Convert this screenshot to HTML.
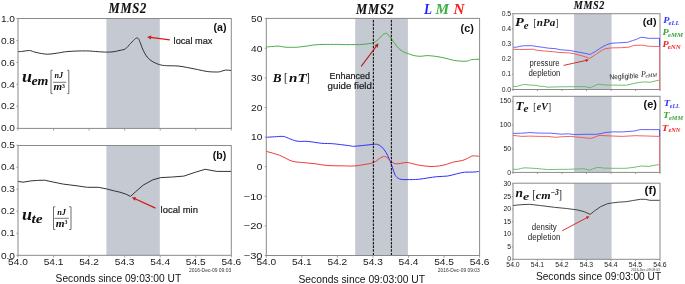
<!DOCTYPE html>
<html><head><meta charset="utf-8"><style>
html,body{margin:0;padding:0;background:#fff;width:685px;height:284px;overflow:hidden}
svg{display:block;will-change:transform}

</style></head><body>
<svg width="685" height="284" viewBox="0 0 685 284">
<rect width="685" height="284" fill="#ffffff"/>
<rect x="106.4" y="18.5" width="53.40" height="109.90" fill="#c5c9d1"/>
<rect x="106.4" y="145.5" width="53.40" height="109.80" fill="#c5c9d1"/>
<rect x="355.2" y="18.4" width="52.70" height="237.10" fill="#c5c9d1"/>
<rect x="574.1" y="13.7" width="37.50" height="75.80" fill="#c5c9d1"/>
<rect x="574.1" y="96.3" width="37.50" height="76.10" fill="#c5c9d1"/>
<rect x="574.1" y="183.2" width="37.50" height="76.10" fill="#c5c9d1"/>
<path d="M18.20,51.70 C19.00,51.63 21.12,51.50 23.00,51.30 C24.88,51.10 27.35,50.32 29.50,50.50 C31.65,50.68 32.97,51.78 35.90,52.40 C38.83,53.02 43.62,54.07 47.10,54.20 C50.58,54.33 53.32,53.65 56.80,53.20 C60.28,52.75 63.18,51.88 68.00,51.50 C72.82,51.12 80.62,50.87 85.70,50.90 C90.78,50.93 95.03,51.50 98.50,51.70 C101.97,51.90 104.08,52.08 106.50,52.10 C108.92,52.12 110.75,52.08 113.00,51.80 C115.25,51.52 117.93,50.90 120.00,50.40 C122.07,49.90 123.63,49.97 125.40,48.80 C127.17,47.63 128.92,45.10 130.60,43.40 C132.28,41.70 134.30,39.47 135.50,38.60 C136.70,37.73 137.15,37.88 137.80,38.20 C138.45,38.52 138.50,38.50 139.40,40.50 C140.30,42.50 141.92,47.45 143.20,50.20 C144.48,52.95 145.48,55.07 147.10,57.00 C148.72,58.93 150.80,60.52 152.90,61.80 C155.00,63.08 157.43,64.05 159.70,64.70 C161.97,65.35 163.45,65.48 166.50,65.70 C169.55,65.92 174.45,65.68 178.00,66.00 C181.55,66.32 184.57,67.02 187.80,67.60 C191.03,68.18 194.18,68.85 197.40,69.50 C200.62,70.15 203.87,71.08 207.10,71.50 C210.33,71.92 214.53,72.00 216.80,72.00 C219.07,72.00 219.25,71.82 220.70,71.50 C222.15,71.18 223.82,70.27 225.50,70.10 C227.18,69.93 229.92,70.43 230.80,70.50" fill="none" stroke="#333333" stroke-width="1.0" stroke-linejoin="round" stroke-linecap="round"/>
<polyline points="18.2,181.4 23.0,182.2 31.0,180.9 37.5,180.4 44.7,180.2 52.0,181.8 63.2,184.1 76.0,185.7 87.3,187.3 98.5,187.3 106.5,188.9 114.6,191.0 120.0,192.2 125.8,194.1 130.5,196.4 135.8,191.6 143.2,185.1 152.9,179.8 160.7,177.6 172.3,177.0 183.9,176.1 195.5,172.2 205.2,169.3 216.8,171.4 230.8,171.4" fill="none" stroke="#333333" stroke-width="1.0" stroke-linejoin="round" stroke-linecap="round" />
<path d="M266.40,137.30 C267.72,137.22 271.52,136.95 274.30,136.80 C277.08,136.65 280.75,136.17 283.10,136.40 C285.45,136.63 286.05,137.40 288.40,138.20 C290.75,139.00 293.97,140.67 297.20,141.20 C300.43,141.73 303.70,141.05 307.80,141.40 C311.90,141.75 317.70,142.92 321.80,143.30 C325.90,143.68 328.87,143.43 332.40,143.70 C335.93,143.97 340.07,144.55 343.00,144.90 C345.93,145.25 348.25,145.57 350.00,145.80 C351.75,146.03 351.42,146.35 353.50,146.30 C355.58,146.25 359.22,145.82 362.50,145.50 C365.78,145.18 370.72,144.58 373.20,144.40 C375.68,144.22 375.98,143.98 377.40,144.40 C378.82,144.82 380.28,145.60 381.70,146.90 C383.12,148.20 384.68,150.27 385.90,152.20 C387.12,154.13 388.12,156.57 389.00,158.50 C389.88,160.43 390.48,161.87 391.20,163.80 C391.92,165.73 392.60,168.17 393.30,170.10 C394.00,172.03 394.35,173.92 395.40,175.40 C396.45,176.88 397.67,178.30 399.60,179.00 C401.53,179.70 403.88,179.55 407.00,179.60 C410.12,179.65 414.78,179.58 418.30,179.30 C421.82,179.02 425.05,178.33 428.10,177.90 C431.15,177.47 433.32,177.02 436.60,176.70 C439.88,176.38 444.52,176.47 447.80,176.00 C451.08,175.53 453.48,174.53 456.30,173.90 C459.12,173.27 461.88,172.50 464.70,172.20 C467.52,171.90 470.78,172.23 473.20,172.10 C475.62,171.97 478.20,171.52 479.20,171.40" fill="none" stroke="#3030ff" stroke-width="1.0" stroke-linejoin="round" stroke-linecap="round"/>
<path d="M266.50,46.90 C267.35,46.85 269.68,46.73 271.60,46.60 C273.52,46.47 275.58,46.00 278.00,46.10 C280.42,46.20 282.88,47.02 286.10,47.20 C289.32,47.38 293.82,47.40 297.30,47.20 C300.78,47.00 303.52,46.43 307.00,46.00 C310.48,45.57 313.65,44.87 318.20,44.60 C322.75,44.33 329.75,44.40 334.30,44.40 C338.85,44.40 341.98,44.57 345.50,44.60 C349.02,44.63 352.35,44.65 355.40,44.60 C358.45,44.55 360.82,44.62 363.80,44.30 C366.78,43.98 370.93,43.48 373.30,42.70 C375.67,41.92 376.42,40.92 378.00,39.60 C379.58,38.28 381.47,35.85 382.80,34.80 C384.13,33.75 385.08,33.30 386.00,33.30 C386.92,33.30 387.38,33.88 388.30,34.80 C389.22,35.72 390.43,37.35 391.50,38.80 C392.57,40.25 393.52,41.92 394.70,43.50 C395.88,45.08 397.15,46.92 398.60,48.30 C400.05,49.68 401.82,50.93 403.40,51.80 C404.98,52.67 406.32,52.87 408.10,53.50 C409.88,54.13 411.93,55.13 414.10,55.60 C416.27,56.07 419.00,56.30 421.10,56.30 C423.20,56.30 424.35,55.60 426.70,55.60 C429.05,55.60 432.15,55.88 435.20,56.30 C438.25,56.72 441.95,57.43 445.00,58.10 C448.05,58.77 450.68,59.78 453.50,60.30 C456.32,60.82 459.57,61.08 461.90,61.20 C464.23,61.32 465.85,61.27 467.50,61.00 C469.15,60.73 469.85,59.88 471.80,59.60 C473.75,59.32 477.97,59.35 479.20,59.30" fill="none" stroke="#4aac4a" stroke-width="1.0" stroke-linejoin="round" stroke-linecap="round"/>
<path d="M266.40,151.40 C268.60,152.05 275.35,153.68 279.60,155.30 C283.85,156.92 288.08,159.90 291.90,161.10 C295.72,162.30 298.68,162.07 302.50,162.50 C306.32,162.93 310.70,163.20 314.80,163.70 C318.90,164.20 322.70,165.15 327.10,165.50 C331.50,165.85 336.80,165.72 341.20,165.80 C345.60,165.88 349.92,166.17 353.50,166.00 C357.08,165.83 359.42,165.35 362.70,164.80 C365.98,164.25 370.38,163.75 373.20,162.70 C376.02,161.65 377.73,159.55 379.60,158.50 C381.47,157.45 383.00,156.40 384.40,156.40 C385.80,156.40 386.87,157.62 388.00,158.50 C389.13,159.38 389.97,160.82 391.20,161.70 C392.43,162.58 393.82,163.52 395.40,163.80 C396.98,164.08 398.77,163.63 400.70,163.40 C402.63,163.17 404.77,162.28 407.00,162.40 C409.23,162.52 411.75,163.58 414.10,164.10 C416.45,164.62 418.28,165.10 421.10,165.50 C423.92,165.90 427.95,166.43 431.00,166.50 C434.05,166.57 436.83,166.25 439.40,165.90 C441.97,165.55 444.05,165.05 446.40,164.40 C448.75,163.75 450.92,162.63 453.50,162.00 C456.08,161.37 459.57,161.20 461.90,160.60 C464.23,160.00 465.85,159.15 467.50,158.40 C469.15,157.65 470.62,156.52 471.80,156.10 C472.98,155.68 473.37,155.87 474.60,155.90 C475.83,155.93 478.43,156.23 479.20,156.30" fill="none" stroke="#f03a3a" stroke-width="1.0" stroke-linejoin="round" stroke-linecap="round"/>
<line x1="373.4" y1="255.5" x2="373.4" y2="18.4" stroke="#111" stroke-width="1.1" stroke-dasharray="2.5,1.2"/>
<line x1="391.4" y1="255.5" x2="391.4" y2="18.4" stroke="#111" stroke-width="1.1" stroke-dasharray="2.5,1.2"/>
<polyline points="513.5,47.1 516.4,47.3 519.3,46.4 524.4,45.7 531.7,45.7 536.1,46.4 542.7,47.3 548.5,48.2 555.1,48.6 560.0,49.7 569.2,50.4 574.7,51.4 582.9,52.9 590.2,54.5 596.6,50.7 603.0,46.5 606.7,44.7 611.2,43.3 617.5,42.9 627.5,42.3 632.5,40.6 636.6,39.3 640.8,37.3 644.1,37.5 648.3,38.3 659.5,38.3 659.5,89.5" fill="none" stroke="#4848ff" stroke-width="0.85" stroke-linejoin="round" stroke-linecap="round" />
<polyline points="513.5,86.4 517.8,86.4 520.0,85.3 524.4,84.4 530.2,85.1 536.1,85.3 539.7,86.2 544.1,86.4 547.0,87.2 560.0,86.8 584.8,86.6 589.2,87.5 591.4,87.3 594.3,85.9 598.0,84.2 603.8,84.9 610.0,85.1 626.6,85.2 632.5,83.8 639.9,82.3 644.9,81.9 649.9,82.3 654.9,81.1 659.5,80.0 659.5,89.5" fill="none" stroke="#58b458" stroke-width="0.85" stroke-linejoin="round" stroke-linecap="round" />
<polyline points="513.5,49.3 519.3,49.5 533.2,49.3 536.8,50.3 544.8,51.0 552.9,51.7 560.0,52.5 569.2,52.9 574.7,53.9 582.9,56.1 589.8,58.4 596.6,53.9 603.0,49.7 606.0,48.6 611.2,47.9 621.6,47.7 629.1,47.1 634.1,45.4 642.4,45.2 648.3,46.2 659.5,46.5 659.5,89.5" fill="none" stroke="#f04848" stroke-width="0.85" stroke-linejoin="round" stroke-linecap="round" />
<polyline points="513.3,133.4 521.7,133.2 529.9,132.6 539.2,133.1 550.9,133.2 561.4,134.2 568.4,133.8 574.2,134.5 585.0,134.3 596.7,134.3 606.0,132.5 611.9,131.9 622.4,131.9 634.0,131.1 639.9,129.6 650.4,129.6 659.5,129.6 659.5,172.4" fill="none" stroke="#4848ff" stroke-width="0.85" stroke-linejoin="round" stroke-linecap="round" />
<polyline points="513.3,169.3 518.2,169.3 520.5,168.5 524.6,167.8 529.9,168.1 536.9,168.5 541.5,169.0 548.5,169.6 556.7,169.4 568.4,169.3 580.1,168.9 583.6,168.7 589.7,170.1 593.2,168.7 597.8,167.3 603.7,168.1 611.9,168.3 625.9,168.3 634.0,167.3 641.1,166.0 649.2,166.4 655.0,165.2 659.5,164.6 659.5,172.4" fill="none" stroke="#58b458" stroke-width="0.85" stroke-linejoin="round" stroke-linecap="round" />
<polyline points="513.3,135.4 521.7,136.4 529.9,136.1 539.2,136.4 547.4,136.4 555.5,137.3 562.6,136.7 570.7,136.4 575.4,136.9 582.4,137.5 586.0,138.0 590.8,138.4 594.3,137.4 599.0,135.4 611.9,136.0 622.4,136.4 635.2,135.7 646.9,136.0 659.5,136.4 659.5,172.4" fill="none" stroke="#f04848" stroke-width="0.85" stroke-linejoin="round" stroke-linecap="round" />
<polyline points="513.2,205.5 520.9,204.7 529.7,204.3 540.2,205.5 554.3,207.3 566.6,208.5 577.2,209.9 584.3,211.7 590.2,214.4 594.5,210.9 600.8,206.6 607.2,203.8 611.6,203.0 618.3,202.2 626.2,201.7 632.5,200.6 640.4,199.3 645.2,199.3 650.0,200.3 659.5,200.3" fill="none" stroke="#333333" stroke-width="0.9" stroke-linejoin="round" stroke-linecap="round" />
<rect x="18.0" y="18.5" width="213.30" height="109.90" fill="none" stroke="#8a8a8a" stroke-width="1"/>
<rect x="18.0" y="145.5" width="213.30" height="109.80" fill="none" stroke="#8a8a8a" stroke-width="1"/>
<rect x="266.3" y="18.4" width="213.30" height="237.10" fill="none" stroke="#8a8a8a" stroke-width="1"/>
<rect x="513.0" y="13.7" width="147.00" height="75.80" fill="none" stroke="#8a8a8a" stroke-width="1"/>
<rect x="513.0" y="96.3" width="147.00" height="76.10" fill="none" stroke="#8a8a8a" stroke-width="1"/>
<rect x="513.0" y="183.2" width="147.00" height="76.10" fill="none" stroke="#8a8a8a" stroke-width="1"/>
<line x1="18.00" y1="128.4" x2="18.00" y2="130.6" stroke="#8a8a8a" stroke-width="0.8"/>
<line x1="53.55" y1="128.4" x2="53.55" y2="130.6" stroke="#8a8a8a" stroke-width="0.8"/>
<line x1="89.10" y1="128.4" x2="89.10" y2="130.6" stroke="#8a8a8a" stroke-width="0.8"/>
<line x1="124.65" y1="128.4" x2="124.65" y2="130.6" stroke="#8a8a8a" stroke-width="0.8"/>
<line x1="160.20" y1="128.4" x2="160.20" y2="130.6" stroke="#8a8a8a" stroke-width="0.8"/>
<line x1="195.75" y1="128.4" x2="195.75" y2="130.6" stroke="#8a8a8a" stroke-width="0.8"/>
<line x1="231.30" y1="128.4" x2="231.30" y2="130.6" stroke="#8a8a8a" stroke-width="0.8"/>
<line x1="18.00" y1="255.3" x2="18.00" y2="257.5" stroke="#8a8a8a" stroke-width="0.8"/>
<line x1="53.55" y1="255.3" x2="53.55" y2="257.5" stroke="#8a8a8a" stroke-width="0.8"/>
<line x1="89.10" y1="255.3" x2="89.10" y2="257.5" stroke="#8a8a8a" stroke-width="0.8"/>
<line x1="124.65" y1="255.3" x2="124.65" y2="257.5" stroke="#8a8a8a" stroke-width="0.8"/>
<line x1="160.20" y1="255.3" x2="160.20" y2="257.5" stroke="#8a8a8a" stroke-width="0.8"/>
<line x1="195.75" y1="255.3" x2="195.75" y2="257.5" stroke="#8a8a8a" stroke-width="0.8"/>
<line x1="231.30" y1="255.3" x2="231.30" y2="257.5" stroke="#8a8a8a" stroke-width="0.8"/>
<line x1="266.30" y1="255.5" x2="266.30" y2="257.7" stroke="#8a8a8a" stroke-width="0.8"/>
<line x1="301.85" y1="255.5" x2="301.85" y2="257.7" stroke="#8a8a8a" stroke-width="0.8"/>
<line x1="337.40" y1="255.5" x2="337.40" y2="257.7" stroke="#8a8a8a" stroke-width="0.8"/>
<line x1="372.95" y1="255.5" x2="372.95" y2="257.7" stroke="#8a8a8a" stroke-width="0.8"/>
<line x1="408.50" y1="255.5" x2="408.50" y2="257.7" stroke="#8a8a8a" stroke-width="0.8"/>
<line x1="444.05" y1="255.5" x2="444.05" y2="257.7" stroke="#8a8a8a" stroke-width="0.8"/>
<line x1="479.60" y1="255.5" x2="479.60" y2="257.7" stroke="#8a8a8a" stroke-width="0.8"/>
<line x1="513.00" y1="89.5" x2="513.00" y2="91.1" stroke="#8a8a8a" stroke-width="0.8"/>
<line x1="537.50" y1="89.5" x2="537.50" y2="91.1" stroke="#8a8a8a" stroke-width="0.8"/>
<line x1="562.00" y1="89.5" x2="562.00" y2="91.1" stroke="#8a8a8a" stroke-width="0.8"/>
<line x1="586.50" y1="89.5" x2="586.50" y2="91.1" stroke="#8a8a8a" stroke-width="0.8"/>
<line x1="611.00" y1="89.5" x2="611.00" y2="91.1" stroke="#8a8a8a" stroke-width="0.8"/>
<line x1="635.50" y1="89.5" x2="635.50" y2="91.1" stroke="#8a8a8a" stroke-width="0.8"/>
<line x1="660.00" y1="89.5" x2="660.00" y2="91.1" stroke="#8a8a8a" stroke-width="0.8"/>
<line x1="513.00" y1="172.4" x2="513.00" y2="174.0" stroke="#8a8a8a" stroke-width="0.8"/>
<line x1="537.50" y1="172.4" x2="537.50" y2="174.0" stroke="#8a8a8a" stroke-width="0.8"/>
<line x1="562.00" y1="172.4" x2="562.00" y2="174.0" stroke="#8a8a8a" stroke-width="0.8"/>
<line x1="586.50" y1="172.4" x2="586.50" y2="174.0" stroke="#8a8a8a" stroke-width="0.8"/>
<line x1="611.00" y1="172.4" x2="611.00" y2="174.0" stroke="#8a8a8a" stroke-width="0.8"/>
<line x1="635.50" y1="172.4" x2="635.50" y2="174.0" stroke="#8a8a8a" stroke-width="0.8"/>
<line x1="660.00" y1="172.4" x2="660.00" y2="174.0" stroke="#8a8a8a" stroke-width="0.8"/>
<line x1="513.00" y1="259.3" x2="513.00" y2="260.90000000000003" stroke="#8a8a8a" stroke-width="0.8"/>
<line x1="537.50" y1="259.3" x2="537.50" y2="260.90000000000003" stroke="#8a8a8a" stroke-width="0.8"/>
<line x1="562.00" y1="259.3" x2="562.00" y2="260.90000000000003" stroke="#8a8a8a" stroke-width="0.8"/>
<line x1="586.50" y1="259.3" x2="586.50" y2="260.90000000000003" stroke="#8a8a8a" stroke-width="0.8"/>
<line x1="611.00" y1="259.3" x2="611.00" y2="260.90000000000003" stroke="#8a8a8a" stroke-width="0.8"/>
<line x1="635.50" y1="259.3" x2="635.50" y2="260.90000000000003" stroke="#8a8a8a" stroke-width="0.8"/>
<line x1="660.00" y1="259.3" x2="660.00" y2="260.90000000000003" stroke="#8a8a8a" stroke-width="0.8"/>
<line x1="16.4" y1="128.20" x2="18.0" y2="128.20" stroke="#8a8a8a" stroke-width="0.8"/>
<line x1="16.4" y1="106.26" x2="18.0" y2="106.26" stroke="#8a8a8a" stroke-width="0.8"/>
<line x1="16.4" y1="84.32" x2="18.0" y2="84.32" stroke="#8a8a8a" stroke-width="0.8"/>
<line x1="16.4" y1="62.38" x2="18.0" y2="62.38" stroke="#8a8a8a" stroke-width="0.8"/>
<line x1="16.4" y1="40.44" x2="18.0" y2="40.44" stroke="#8a8a8a" stroke-width="0.8"/>
<line x1="16.4" y1="18.50" x2="18.0" y2="18.50" stroke="#8a8a8a" stroke-width="0.8"/>
<line x1="16.4" y1="255.30" x2="18.0" y2="255.30" stroke="#8a8a8a" stroke-width="0.8"/>
<line x1="16.4" y1="233.28" x2="18.0" y2="233.28" stroke="#8a8a8a" stroke-width="0.8"/>
<line x1="16.4" y1="211.26" x2="18.0" y2="211.26" stroke="#8a8a8a" stroke-width="0.8"/>
<line x1="16.4" y1="189.24" x2="18.0" y2="189.24" stroke="#8a8a8a" stroke-width="0.8"/>
<line x1="16.4" y1="167.22" x2="18.0" y2="167.22" stroke="#8a8a8a" stroke-width="0.8"/>
<line x1="16.4" y1="145.20" x2="18.0" y2="145.20" stroke="#8a8a8a" stroke-width="0.8"/>
<line x1="264.7" y1="255.50" x2="266.3" y2="255.50" stroke="#8a8a8a" stroke-width="0.8"/>
<line x1="264.7" y1="225.90" x2="266.3" y2="225.90" stroke="#8a8a8a" stroke-width="0.8"/>
<line x1="264.7" y1="196.30" x2="266.3" y2="196.30" stroke="#8a8a8a" stroke-width="0.8"/>
<line x1="264.7" y1="166.70" x2="266.3" y2="166.70" stroke="#8a8a8a" stroke-width="0.8"/>
<line x1="264.7" y1="137.10" x2="266.3" y2="137.10" stroke="#8a8a8a" stroke-width="0.8"/>
<line x1="264.7" y1="107.50" x2="266.3" y2="107.50" stroke="#8a8a8a" stroke-width="0.8"/>
<line x1="264.7" y1="77.90" x2="266.3" y2="77.90" stroke="#8a8a8a" stroke-width="0.8"/>
<line x1="264.7" y1="48.30" x2="266.3" y2="48.30" stroke="#8a8a8a" stroke-width="0.8"/>
<line x1="264.7" y1="18.70" x2="266.3" y2="18.70" stroke="#8a8a8a" stroke-width="0.8"/>
<line x1="511.8" y1="89.50" x2="513.0" y2="89.50" stroke="#8a8a8a" stroke-width="0.8"/>
<line x1="511.8" y1="74.34" x2="513.0" y2="74.34" stroke="#8a8a8a" stroke-width="0.8"/>
<line x1="511.8" y1="59.18" x2="513.0" y2="59.18" stroke="#8a8a8a" stroke-width="0.8"/>
<line x1="511.8" y1="44.02" x2="513.0" y2="44.02" stroke="#8a8a8a" stroke-width="0.8"/>
<line x1="511.8" y1="28.86" x2="513.0" y2="28.86" stroke="#8a8a8a" stroke-width="0.8"/>
<line x1="511.8" y1="13.70" x2="513.0" y2="13.70" stroke="#8a8a8a" stroke-width="0.8"/>
<line x1="511.8" y1="172.40" x2="513.0" y2="172.40" stroke="#8a8a8a" stroke-width="0.8"/>
<line x1="511.8" y1="148.70" x2="513.0" y2="148.70" stroke="#8a8a8a" stroke-width="0.8"/>
<line x1="511.8" y1="125.00" x2="513.0" y2="125.00" stroke="#8a8a8a" stroke-width="0.8"/>
<line x1="511.8" y1="101.30" x2="513.0" y2="101.30" stroke="#8a8a8a" stroke-width="0.8"/>
<line x1="511.8" y1="259.30" x2="513.0" y2="259.30" stroke="#8a8a8a" stroke-width="0.8"/>
<line x1="511.8" y1="246.75" x2="513.0" y2="246.75" stroke="#8a8a8a" stroke-width="0.8"/>
<line x1="511.8" y1="234.20" x2="513.0" y2="234.20" stroke="#8a8a8a" stroke-width="0.8"/>
<line x1="511.8" y1="221.65" x2="513.0" y2="221.65" stroke="#8a8a8a" stroke-width="0.8"/>
<line x1="511.8" y1="209.10" x2="513.0" y2="209.10" stroke="#8a8a8a" stroke-width="0.8"/>
<line x1="511.8" y1="196.55" x2="513.0" y2="196.55" stroke="#8a8a8a" stroke-width="0.8"/>
<line x1="511.8" y1="184.00" x2="513.0" y2="184.00" stroke="#8a8a8a" stroke-width="0.8"/>
<line x1="659.6" y1="38.3" x2="659.6" y2="46.5" stroke="#4848ff" stroke-width="0.9"/>
<line x1="659.6" y1="46.5" x2="659.6" y2="89.5" stroke="#e47480" stroke-width="1"/>
<line x1="659.6" y1="129.6" x2="659.6" y2="136.4" stroke="#4848ff" stroke-width="0.9"/>
<line x1="659.6" y1="136.4" x2="659.6" y2="172.4" stroke="#e47480" stroke-width="1"/>
<text x="15.00" y="131.40" font-family="Liberation Sans" font-size="9.27" fill="#1a1a1a" text-anchor="end" textLength="14.10" lengthAdjust="spacingAndGlyphs">0.0</text>
<text x="15.00" y="109.46" font-family="Liberation Sans" font-size="9.27" fill="#1a1a1a" text-anchor="end" textLength="14.10" lengthAdjust="spacingAndGlyphs">0.2</text>
<text x="15.00" y="87.52" font-family="Liberation Sans" font-size="9.27" fill="#1a1a1a" text-anchor="end" textLength="14.10" lengthAdjust="spacingAndGlyphs">0.4</text>
<text x="15.00" y="65.58" font-family="Liberation Sans" font-size="9.27" fill="#1a1a1a" text-anchor="end" textLength="14.10" lengthAdjust="spacingAndGlyphs">0.6</text>
<text x="15.00" y="43.64" font-family="Liberation Sans" font-size="9.27" fill="#1a1a1a" text-anchor="end" textLength="14.10" lengthAdjust="spacingAndGlyphs">0.8</text>
<text x="15.00" y="21.70" font-family="Liberation Sans" font-size="9.27" fill="#1a1a1a" text-anchor="end" textLength="14.10" lengthAdjust="spacingAndGlyphs">1.0</text>
<text x="15.00" y="258.50" font-family="Liberation Sans" font-size="9.27" fill="#1a1a1a" text-anchor="end" textLength="14.10" lengthAdjust="spacingAndGlyphs">0.0</text>
<text x="15.00" y="236.48" font-family="Liberation Sans" font-size="9.27" fill="#1a1a1a" text-anchor="end" textLength="14.10" lengthAdjust="spacingAndGlyphs">0.1</text>
<text x="15.00" y="214.46" font-family="Liberation Sans" font-size="9.27" fill="#1a1a1a" text-anchor="end" textLength="14.10" lengthAdjust="spacingAndGlyphs">0.2</text>
<text x="15.00" y="192.44" font-family="Liberation Sans" font-size="9.27" fill="#1a1a1a" text-anchor="end" textLength="14.10" lengthAdjust="spacingAndGlyphs">0.3</text>
<text x="15.00" y="170.42" font-family="Liberation Sans" font-size="9.27" fill="#1a1a1a" text-anchor="end" textLength="14.10" lengthAdjust="spacingAndGlyphs">0.4</text>
<text x="15.00" y="148.40" font-family="Liberation Sans" font-size="9.27" fill="#1a1a1a" text-anchor="end" textLength="14.10" lengthAdjust="spacingAndGlyphs">0.5</text>
<text x="18.00" y="265.00" font-family="Liberation Sans" font-size="9.27" fill="#1a1a1a" text-anchor="middle" textLength="19.73" lengthAdjust="spacingAndGlyphs">54.0</text>
<text x="53.55" y="265.00" font-family="Liberation Sans" font-size="9.27" fill="#1a1a1a" text-anchor="middle" textLength="19.73" lengthAdjust="spacingAndGlyphs">54.1</text>
<text x="89.10" y="265.00" font-family="Liberation Sans" font-size="9.27" fill="#1a1a1a" text-anchor="middle" textLength="19.73" lengthAdjust="spacingAndGlyphs">54.2</text>
<text x="124.65" y="265.00" font-family="Liberation Sans" font-size="9.27" fill="#1a1a1a" text-anchor="middle" textLength="19.73" lengthAdjust="spacingAndGlyphs">54.3</text>
<text x="160.20" y="265.00" font-family="Liberation Sans" font-size="9.27" fill="#1a1a1a" text-anchor="middle" textLength="19.73" lengthAdjust="spacingAndGlyphs">54.4</text>
<text x="195.75" y="265.00" font-family="Liberation Sans" font-size="9.27" fill="#1a1a1a" text-anchor="middle" textLength="19.73" lengthAdjust="spacingAndGlyphs">54.5</text>
<text x="231.30" y="265.00" font-family="Liberation Sans" font-size="9.27" fill="#1a1a1a" text-anchor="middle" textLength="19.73" lengthAdjust="spacingAndGlyphs">54.6</text>
<text x="262.40" y="258.70" font-family="Liberation Sans" font-size="9.27" fill="#1a1a1a" text-anchor="end" textLength="18.71" lengthAdjust="spacingAndGlyphs">−30</text>
<text x="262.40" y="229.10" font-family="Liberation Sans" font-size="9.27" fill="#1a1a1a" text-anchor="end" textLength="18.71" lengthAdjust="spacingAndGlyphs">−20</text>
<text x="262.40" y="199.50" font-family="Liberation Sans" font-size="9.27" fill="#1a1a1a" text-anchor="end" textLength="18.71" lengthAdjust="spacingAndGlyphs">−10</text>
<text x="262.40" y="169.90" font-family="Liberation Sans" font-size="9.27" fill="#1a1a1a" text-anchor="end" textLength="5.64" lengthAdjust="spacingAndGlyphs">0</text>
<text x="262.40" y="140.30" font-family="Liberation Sans" font-size="9.27" fill="#1a1a1a" text-anchor="end" textLength="11.28" lengthAdjust="spacingAndGlyphs">10</text>
<text x="262.40" y="110.70" font-family="Liberation Sans" font-size="9.27" fill="#1a1a1a" text-anchor="end" textLength="11.28" lengthAdjust="spacingAndGlyphs">20</text>
<text x="262.40" y="81.10" font-family="Liberation Sans" font-size="9.27" fill="#1a1a1a" text-anchor="end" textLength="11.28" lengthAdjust="spacingAndGlyphs">30</text>
<text x="262.40" y="51.50" font-family="Liberation Sans" font-size="9.27" fill="#1a1a1a" text-anchor="end" textLength="11.28" lengthAdjust="spacingAndGlyphs">40</text>
<text x="262.40" y="21.90" font-family="Liberation Sans" font-size="9.27" fill="#1a1a1a" text-anchor="end" textLength="11.28" lengthAdjust="spacingAndGlyphs">50</text>
<text x="266.30" y="265.00" font-family="Liberation Sans" font-size="9.27" fill="#1a1a1a" text-anchor="middle" textLength="19.73" lengthAdjust="spacingAndGlyphs">54.0</text>
<text x="301.85" y="265.00" font-family="Liberation Sans" font-size="9.27" fill="#1a1a1a" text-anchor="middle" textLength="19.73" lengthAdjust="spacingAndGlyphs">54.1</text>
<text x="337.40" y="265.00" font-family="Liberation Sans" font-size="9.27" fill="#1a1a1a" text-anchor="middle" textLength="19.73" lengthAdjust="spacingAndGlyphs">54.2</text>
<text x="372.95" y="265.00" font-family="Liberation Sans" font-size="9.27" fill="#1a1a1a" text-anchor="middle" textLength="19.73" lengthAdjust="spacingAndGlyphs">54.3</text>
<text x="408.50" y="265.00" font-family="Liberation Sans" font-size="9.27" fill="#1a1a1a" text-anchor="middle" textLength="19.73" lengthAdjust="spacingAndGlyphs">54.4</text>
<text x="444.05" y="265.00" font-family="Liberation Sans" font-size="9.27" fill="#1a1a1a" text-anchor="middle" textLength="19.73" lengthAdjust="spacingAndGlyphs">54.5</text>
<text x="479.60" y="265.00" font-family="Liberation Sans" font-size="9.27" fill="#1a1a1a" text-anchor="middle" textLength="19.73" lengthAdjust="spacingAndGlyphs">54.6</text>
<text x="511.20" y="91.60" font-family="Liberation Sans" font-size="6.28" fill="#1a1a1a" text-anchor="end" textLength="9.55" lengthAdjust="spacingAndGlyphs">0.0</text>
<text x="511.20" y="76.44" font-family="Liberation Sans" font-size="6.28" fill="#1a1a1a" text-anchor="end" textLength="9.55" lengthAdjust="spacingAndGlyphs">0.1</text>
<text x="511.20" y="61.28" font-family="Liberation Sans" font-size="6.28" fill="#1a1a1a" text-anchor="end" textLength="9.55" lengthAdjust="spacingAndGlyphs">0.2</text>
<text x="511.20" y="46.12" font-family="Liberation Sans" font-size="6.28" fill="#1a1a1a" text-anchor="end" textLength="9.55" lengthAdjust="spacingAndGlyphs">0.3</text>
<text x="511.20" y="30.96" font-family="Liberation Sans" font-size="6.28" fill="#1a1a1a" text-anchor="end" textLength="9.55" lengthAdjust="spacingAndGlyphs">0.4</text>
<text x="511.20" y="15.80" font-family="Liberation Sans" font-size="6.28" fill="#1a1a1a" text-anchor="end" textLength="9.55" lengthAdjust="spacingAndGlyphs">0.5</text>
<text x="511.20" y="174.50" font-family="Liberation Sans" font-size="6.28" fill="#1a1a1a" text-anchor="end" textLength="3.82" lengthAdjust="spacingAndGlyphs">0</text>
<text x="511.20" y="150.80" font-family="Liberation Sans" font-size="6.28" fill="#1a1a1a" text-anchor="end" textLength="7.64" lengthAdjust="spacingAndGlyphs">50</text>
<text x="511.20" y="127.10" font-family="Liberation Sans" font-size="6.28" fill="#1a1a1a" text-anchor="end" textLength="11.46" lengthAdjust="spacingAndGlyphs">100</text>
<text x="511.20" y="103.40" font-family="Liberation Sans" font-size="6.28" fill="#1a1a1a" text-anchor="end" textLength="11.46" lengthAdjust="spacingAndGlyphs">150</text>
<text x="511.20" y="261.40" font-family="Liberation Sans" font-size="6.28" fill="#1a1a1a" text-anchor="end" textLength="3.82" lengthAdjust="spacingAndGlyphs">0</text>
<text x="511.20" y="248.85" font-family="Liberation Sans" font-size="6.28" fill="#1a1a1a" text-anchor="end" textLength="3.82" lengthAdjust="spacingAndGlyphs">5</text>
<text x="511.20" y="236.30" font-family="Liberation Sans" font-size="6.28" fill="#1a1a1a" text-anchor="end" textLength="7.64" lengthAdjust="spacingAndGlyphs">10</text>
<text x="511.20" y="223.75" font-family="Liberation Sans" font-size="6.28" fill="#1a1a1a" text-anchor="end" textLength="7.64" lengthAdjust="spacingAndGlyphs">15</text>
<text x="511.20" y="211.20" font-family="Liberation Sans" font-size="6.28" fill="#1a1a1a" text-anchor="end" textLength="7.64" lengthAdjust="spacingAndGlyphs">20</text>
<text x="511.20" y="198.65" font-family="Liberation Sans" font-size="6.28" fill="#1a1a1a" text-anchor="end" textLength="7.64" lengthAdjust="spacingAndGlyphs">25</text>
<text x="511.20" y="186.10" font-family="Liberation Sans" font-size="6.28" fill="#1a1a1a" text-anchor="end" textLength="7.64" lengthAdjust="spacingAndGlyphs">30</text>
<text x="513.00" y="267.00" font-family="Liberation Sans" font-size="6.28" fill="#1a1a1a" text-anchor="middle" textLength="13.37" lengthAdjust="spacingAndGlyphs">54.0</text>
<text x="537.50" y="267.00" font-family="Liberation Sans" font-size="6.28" fill="#1a1a1a" text-anchor="middle" textLength="13.37" lengthAdjust="spacingAndGlyphs">54.1</text>
<text x="562.00" y="267.00" font-family="Liberation Sans" font-size="6.28" fill="#1a1a1a" text-anchor="middle" textLength="13.37" lengthAdjust="spacingAndGlyphs">54.2</text>
<text x="586.50" y="267.00" font-family="Liberation Sans" font-size="6.28" fill="#1a1a1a" text-anchor="middle" textLength="13.37" lengthAdjust="spacingAndGlyphs">54.3</text>
<text x="611.00" y="267.00" font-family="Liberation Sans" font-size="6.28" fill="#1a1a1a" text-anchor="middle" textLength="13.37" lengthAdjust="spacingAndGlyphs">54.4</text>
<text x="635.50" y="267.00" font-family="Liberation Sans" font-size="6.28" fill="#1a1a1a" text-anchor="middle" textLength="13.37" lengthAdjust="spacingAndGlyphs">54.5</text>
<text x="660.00" y="267.00" font-family="Liberation Sans" font-size="6.28" fill="#1a1a1a" text-anchor="middle" textLength="13.37" lengthAdjust="spacingAndGlyphs">54.6</text>
<text x="55.6" y="282.3" font-family="Liberation Sans" font-size="10.3" font-weight="normal" font-style="normal" fill="#111" textLength="125.60" lengthAdjust="spacingAndGlyphs" >Seconds since 09:03:00 UT</text>
<text x="298.5" y="282.6" font-family="Liberation Sans" font-size="10.3" font-weight="normal" font-style="normal" fill="#111" textLength="126.60" lengthAdjust="spacingAndGlyphs" >Seconds since 09:03:00 UT</text>
<text x="535.9" y="279.5" font-family="Liberation Sans" font-size="10.5" font-weight="normal" font-style="normal" fill="#111" textLength="125.30" lengthAdjust="spacingAndGlyphs" >Seconds since 09:03:00 UT</text>
<text x="189.0" y="272.0" font-family="Liberation Sans" font-size="5.3" font-weight="normal" font-style="normal" fill="#333" textLength="42.20" lengthAdjust="spacingAndGlyphs" >2016-Dec-09 09:03</text>
<text x="437.8" y="272.0" font-family="Liberation Sans" font-size="5.3" font-weight="normal" font-style="normal" fill="#333" textLength="42.00" lengthAdjust="spacingAndGlyphs" >2016-Dec-09 09:03</text>
<text x="631.0" y="270.6" font-family="Liberation Sans" font-size="3.7" font-weight="normal" font-style="normal" fill="#444" textLength="28.90" lengthAdjust="spacingAndGlyphs" >2016-Dec-09 09:03</text>
<g transform="translate(108.6,13.0) scale(1,1.08)"><text x="0" y="0" font-family="Liberation Serif" font-size="12.6" font-weight="bold" font-style="italic" fill="#111" textLength="37.60" lengthAdjust="spacing" stroke="#111" stroke-width="0.12">MMS2</text></g>
<g transform="translate(356.1,13.6) scale(1,1.12)"><text x="0" y="0" font-family="Liberation Serif" font-size="12.6" font-weight="bold" font-style="italic" fill="#111" textLength="37.50" lengthAdjust="spacing" stroke="#111" stroke-width="0.12">MMS2</text></g>
<g transform="translate(573.8,8.8) scale(1,1.12)"><text x="0" y="0" font-family="Liberation Serif" font-size="10.2" font-weight="bold" font-style="italic" fill="#111" textLength="30.60" lengthAdjust="spacing" stroke="#111" stroke-width="0.1">MMS2</text></g>
<text x="424.0" y="14.2" font-family="Liberation Serif" font-size="15.5" font-weight="bold" font-style="italic" fill="#2222ff" textLength="8.00" lengthAdjust="spacingAndGlyphs" >L</text>
<text x="435.6" y="14.2" font-family="Liberation Serif" font-size="15.5" font-weight="bold" font-style="italic" fill="#3cb043" textLength="13.60" lengthAdjust="spacingAndGlyphs" >M</text>
<text x="453.6" y="14.2" font-family="Liberation Serif" font-size="15.5" font-weight="bold" font-style="italic" fill="#ff1a1a" textLength="11.00" lengthAdjust="spacingAndGlyphs" >N</text>
<text x="213.5" y="31.3" font-family="Liberation Sans" font-size="10.2" font-weight="bold" font-style="normal" fill="#111" textLength="13.00" lengthAdjust="spacingAndGlyphs" >(a)</text>
<text x="212.8" y="158.7" font-family="Liberation Sans" font-size="10.4" font-weight="bold" font-style="normal" fill="#111" textLength="13.50" lengthAdjust="spacingAndGlyphs" >(b)</text>
<text x="460.6" y="32.2" font-family="Liberation Sans" font-size="10.6" font-weight="bold" font-style="normal" fill="#111" textLength="13.20" lengthAdjust="spacingAndGlyphs" >(c)</text>
<text x="642.7" y="25.2" font-family="Liberation Sans" font-size="9.3" font-weight="bold" font-style="normal" fill="#111" textLength="13.80" lengthAdjust="spacingAndGlyphs" >(d)</text>
<text x="643.6" y="107.7" font-family="Liberation Sans" font-size="10.8" font-weight="bold" font-style="normal" fill="#111" textLength="13.40" lengthAdjust="spacingAndGlyphs" >(e)</text>
<text x="644.6" y="193.6" font-family="Liberation Sans" font-size="11.4" font-weight="bold" font-style="normal" fill="#111" textLength="11.70" lengthAdjust="spacingAndGlyphs" >(f)</text>
<text x="173.6" y="43.5" font-family="Liberation Sans" font-size="9.6" font-weight="normal" font-style="normal" fill="#1c1c1c" textLength="38.80" lengthAdjust="spacingAndGlyphs" stroke="#1c1c1c" stroke-width="0.22">local max</text>
<text x="160.6" y="212.7" font-family="Liberation Sans" font-size="9.6" font-weight="normal" font-style="normal" fill="#1c1c1c" textLength="37.30" lengthAdjust="spacingAndGlyphs" stroke="#1c1c1c" stroke-width="0.22">local min</text>
<text x="329.5" y="78.9" font-family="Liberation Sans" font-size="9.6" font-weight="normal" font-style="normal" fill="#1c1c1c" textLength="40.50" lengthAdjust="spacingAndGlyphs" stroke="#1c1c1c" stroke-width="0.22">Enhanced</text>
<text x="327.6" y="89.4" font-family="Liberation Sans" font-size="9.6" font-weight="normal" font-style="normal" fill="#1c1c1c" textLength="44.30" lengthAdjust="spacingAndGlyphs" stroke="#1c1c1c" stroke-width="0.22">guide field</text>
<text x="529.6" y="66.4" font-family="Liberation Sans" font-size="8.3" font-weight="normal" font-style="normal" fill="#1c1c1c" textLength="29.90" lengthAdjust="spacingAndGlyphs" >pressure</text>
<text x="528.5" y="75.9" font-family="Liberation Sans" font-size="8.3" font-weight="normal" font-style="normal" fill="#1c1c1c" textLength="31.90" lengthAdjust="spacingAndGlyphs" >depletion</text>
<text x="531.8" y="230.0" font-family="Liberation Sans" font-size="8.5" font-weight="normal" font-style="normal" fill="#1c1c1c" textLength="25.00" lengthAdjust="spacingAndGlyphs" >density</text>
<text x="527.7" y="240.0" font-family="Liberation Sans" font-size="8.5" font-weight="normal" font-style="normal" fill="#1c1c1c" textLength="32.70" lengthAdjust="spacingAndGlyphs" >depletion</text>
<g transform="translate(609.4,79.4) rotate(-2.8)">
<text x="0" y="0" font-family="Liberation Sans" font-size="7.4" fill="#1a1a1a" textLength="29.4" lengthAdjust="spacingAndGlyphs">Negligible</text>
<text x="31.6" y="-1.2" font-family="Liberation Serif" font-style="italic" font-size="8.2" fill="#1a1a1a">P</text>
<text x="36.2" y="-0.2" font-family="Liberation Serif" font-style="italic" font-size="5.4" fill="#1a1a1a" textLength="11.4" lengthAdjust="spacingAndGlyphs">eMM</text>
</g>
<line x1="169.8" y1="39.8" x2="150.57" y2="37.43" stroke="#d01c16" stroke-width="1.3"/>
<polygon points="147.10,37.00 151.31,35.50 150.83,39.47" fill="#d01c16"/>
<line x1="155.5" y1="208.2" x2="134.98" y2="198.76" stroke="#d01c16" stroke-width="1.3"/>
<polygon points="131.80,197.30 136.27,197.15 134.60,200.79" fill="#d01c16"/>
<line x1="361.2" y1="66.4" x2="376.40" y2="46.10" stroke="#b02020" stroke-width="1.1"/>
<polygon points="378.50,43.30 377.70,47.70 374.50,45.30" fill="#b02020"/>
<line x1="563.6" y1="65.4" x2="586.26" y2="60.38" stroke="#d01c16" stroke-width="0.9"/>
<polygon points="588.90,59.80 586.12,62.05 585.43,58.93" fill="#d01c16"/>
<line x1="562.2" y1="230.8" x2="587.12" y2="217.57" stroke="#d01c16" stroke-width="0.9"/>
<polygon points="589.50,216.30 587.42,219.21 585.92,216.39" fill="#d01c16"/>
<text x="21.9" y="81.8" font-family="Liberation Serif" font-size="17" font-weight="bold" font-style="italic" fill="#111" textLength="10.00" lengthAdjust="spacingAndGlyphs" >u</text>
<text x="31.4" y="85.4" font-family="Liberation Serif" font-size="12.4" font-weight="bold" font-style="italic" fill="#111" textLength="17.00" lengthAdjust="spacingAndGlyphs" >em</text>
<path d="M52.6,70.3 H51.0 V93.6 H52.6" fill="none" stroke="#4a4a4a" stroke-width="0.8"/>
<path d="M67.2,70.3 H68.8 V93.6 H67.2" fill="none" stroke="#4a4a4a" stroke-width="0.8"/>
<text x="54.6" y="78.4" font-family="Liberation Serif" font-size="8.6" font-weight="bold" font-style="italic" fill="#111" textLength="8.60" lengthAdjust="spacingAndGlyphs" >nJ</text>
<line x1="53.0" y1="82.3" x2="66.3" y2="82.3" stroke="#555" stroke-width="0.8"/>
<text x="53.5" y="90.2" font-family="Liberation Serif" font-size="10" font-weight="bold" font-style="italic" fill="#111" textLength="8.60" lengthAdjust="spacingAndGlyphs" >m</text>
<text x="61.9" y="88.3" font-family="Liberation Serif" font-size="5.8" font-weight="bold" font-style="normal" fill="#111" textLength="2.90" lengthAdjust="spacingAndGlyphs" >3</text>
<text x="21.9" y="219.7" font-family="Liberation Serif" font-size="17" font-weight="bold" font-style="italic" fill="#111" textLength="10.00" lengthAdjust="spacingAndGlyphs" >u</text>
<text x="31.4" y="222.9" font-family="Liberation Serif" font-size="12.4" font-weight="bold" font-style="italic" fill="#111" textLength="11.20" lengthAdjust="spacingAndGlyphs" >te</text>
<path d="M55.3,206.8 H53.5 V229.5 H55.3" fill="none" stroke="#4a4a4a" stroke-width="0.8"/>
<path d="M69.2,206.8 H71.0 V229.5 H69.2" fill="none" stroke="#4a4a4a" stroke-width="0.8"/>
<text x="57.2" y="214.9" font-family="Liberation Serif" font-size="8.6" font-weight="bold" font-style="italic" fill="#111" textLength="8.80" lengthAdjust="spacingAndGlyphs" >nJ</text>
<line x1="54.4" y1="218.3" x2="68.8" y2="218.3" stroke="#555" stroke-width="0.8"/>
<text x="55.7" y="226.7" font-family="Liberation Serif" font-size="10" font-weight="bold" font-style="italic" fill="#111" textLength="8.80" lengthAdjust="spacingAndGlyphs" >m</text>
<text x="64.4" y="224.3" font-family="Liberation Serif" font-size="5.8" font-weight="bold" font-style="normal" fill="#111" textLength="2.90" lengthAdjust="spacingAndGlyphs" >3</text>
<text x="272.7" y="81.8" font-family="Liberation Serif" font-size="13.2" font-weight="bold" font-style="italic" fill="#111" textLength="8.80" lengthAdjust="spacingAndGlyphs" >B</text>
<text x="283.9" y="81.8" font-family="Liberation Serif" font-size="13.2" font-weight="normal" font-style="normal" fill="#111" textLength="3.60" lengthAdjust="spacingAndGlyphs" >[</text>
<text x="289.0" y="81.8" font-family="Liberation Serif" font-size="13.2" font-weight="bold" font-style="italic" fill="#111" textLength="17.60" lengthAdjust="spacingAndGlyphs" >nT</text>
<text x="306.2" y="81.8" font-family="Liberation Serif" font-size="13.2" font-weight="normal" font-style="normal" fill="#111" textLength="3.60" lengthAdjust="spacingAndGlyphs" >]</text>
<text x="515.0" y="26.4" font-family="Liberation Serif" font-size="13.0" font-weight="bold" font-style="italic" fill="#111" textLength="8.80" lengthAdjust="spacingAndGlyphs" >P</text>
<text x="523.8" y="29.0" font-family="Liberation Serif" font-size="10.0" font-weight="bold" font-style="italic" fill="#111" textLength="4.80" lengthAdjust="spacingAndGlyphs" >e</text>
<text x="533.4" y="25.8" font-family="Liberation Serif" font-size="10.0" font-weight="normal" font-style="normal" fill="#111" textLength="2.80" lengthAdjust="spacingAndGlyphs" >[</text>
<text x="536.8" y="25.8" font-family="Liberation Serif" font-size="9.8" font-weight="bold" font-style="italic" fill="#111" textLength="18.40" lengthAdjust="spacingAndGlyphs" >nPa</text>
<text x="555.4" y="25.8" font-family="Liberation Serif" font-size="10.0" font-weight="normal" font-style="normal" fill="#111" textLength="2.80" lengthAdjust="spacingAndGlyphs" >]</text>
<text x="515.6" y="109.6" font-family="Liberation Serif" font-size="13.4" font-weight="bold" font-style="italic" fill="#111" textLength="8.00" lengthAdjust="spacingAndGlyphs" >T</text>
<text x="523.5" y="112.2" font-family="Liberation Serif" font-size="10.0" font-weight="bold" font-style="italic" fill="#111" textLength="5.00" lengthAdjust="spacingAndGlyphs" >e</text>
<text x="533.3" y="110.2" font-family="Liberation Serif" font-size="10.0" font-weight="normal" font-style="normal" fill="#111" textLength="2.80" lengthAdjust="spacingAndGlyphs" >[</text>
<text x="536.8" y="110.2" font-family="Liberation Serif" font-size="10.0" font-weight="bold" font-style="italic" fill="#111" textLength="11.00" lengthAdjust="spacingAndGlyphs" >eV</text>
<text x="548.2" y="110.2" font-family="Liberation Serif" font-size="10.0" font-weight="normal" font-style="normal" fill="#111" textLength="2.80" lengthAdjust="spacingAndGlyphs" >]</text>
<text x="515.6" y="197.4" font-family="Liberation Serif" font-size="13.4" font-weight="bold" font-style="italic" fill="#111" textLength="7.40" lengthAdjust="spacingAndGlyphs" >n</text>
<text x="523.0" y="200.3" font-family="Liberation Serif" font-size="10.0" font-weight="bold" font-style="italic" fill="#111" textLength="6.20" lengthAdjust="spacingAndGlyphs" >e</text>
<text x="532.6" y="199.2" font-family="Liberation Serif" font-size="12.6" font-weight="normal" font-style="normal" fill="#111" textLength="3.20" lengthAdjust="spacingAndGlyphs" >[</text>
<text x="535.8" y="198.5" font-family="Liberation Serif" font-size="9.8" font-weight="bold" font-style="italic" fill="#111" textLength="14.80" lengthAdjust="spacingAndGlyphs" >cm</text>
<text x="550.2" y="195.4" font-family="Liberation Serif" font-size="8.0" font-weight="bold" font-style="italic" fill="#111" textLength="8.60" lengthAdjust="spacingAndGlyphs" >−3</text>
<text x="558.8" y="199.2" font-family="Liberation Serif" font-size="12.6" font-weight="normal" font-style="normal" fill="#111" textLength="3.20" lengthAdjust="spacingAndGlyphs" >]</text>
<text x="663.2" y="22.7" font-family="Liberation Serif" font-size="9.2" font-weight="bold" font-style="italic" fill="#3636ff" textLength="6.20" lengthAdjust="spacingAndGlyphs" >P</text>
<text x="668.6" y="24.8" font-family="Liberation Serif" font-size="6.2" font-weight="bold" font-style="italic" fill="#3636ff" textLength="10.80" lengthAdjust="spacingAndGlyphs" >eLL</text>
<text x="662.6" y="34.8" font-family="Liberation Serif" font-size="9.2" font-weight="bold" font-style="italic" fill="#3ca43c" textLength="6.20" lengthAdjust="spacingAndGlyphs" >P</text>
<text x="668.0" y="36.8" font-family="Liberation Serif" font-size="6.2" font-weight="bold" font-style="italic" fill="#3ca43c" textLength="15.20" lengthAdjust="spacingAndGlyphs" >eMM</text>
<text x="662.6" y="46.9" font-family="Liberation Serif" font-size="9.2" font-weight="bold" font-style="italic" fill="#f02424" textLength="6.20" lengthAdjust="spacingAndGlyphs" >P</text>
<text x="667.7" y="48.9" font-family="Liberation Serif" font-size="6.2" font-weight="bold" font-style="italic" fill="#f02424" textLength="13.00" lengthAdjust="spacingAndGlyphs" >eNN</text>
<text x="663.8" y="106.0" font-family="Liberation Serif" font-size="9.2" font-weight="bold" font-style="italic" fill="#3636ff" textLength="6.40" lengthAdjust="spacingAndGlyphs" >T</text>
<text x="669.8" y="108.0" font-family="Liberation Serif" font-size="6.2" font-weight="bold" font-style="italic" fill="#3636ff" textLength="9.90" lengthAdjust="spacingAndGlyphs" >eLL</text>
<text x="663.1" y="118.0" font-family="Liberation Serif" font-size="9.2" font-weight="bold" font-style="italic" fill="#3ca43c" textLength="6.40" lengthAdjust="spacingAndGlyphs" >T</text>
<text x="668.9" y="120.0" font-family="Liberation Serif" font-size="6.2" font-weight="bold" font-style="italic" fill="#3ca43c" textLength="14.20" lengthAdjust="spacingAndGlyphs" >eMM</text>
<text x="661.8" y="130.5" font-family="Liberation Serif" font-size="9.2" font-weight="bold" font-style="italic" fill="#f02424" textLength="6.60" lengthAdjust="spacingAndGlyphs" >T</text>
<text x="668.5" y="132.4" font-family="Liberation Serif" font-size="6.2" font-weight="bold" font-style="italic" fill="#f02424" textLength="11.80" lengthAdjust="spacingAndGlyphs" >eNN</text>
</svg>
</body></html>
